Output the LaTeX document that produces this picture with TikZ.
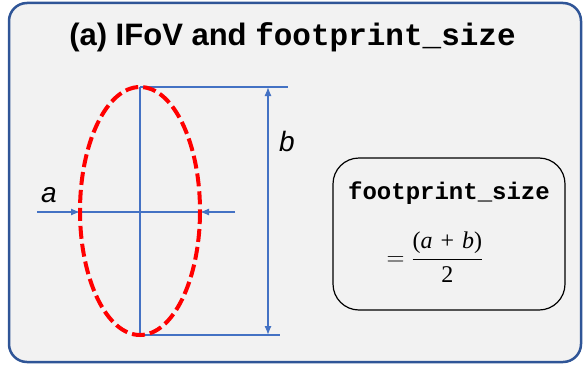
\documentclass[tikz,border=0pt]{standalone}
\usepackage{fontspec}
\setmainfont{Liberation Sans}
\setmonofont{Liberation Mono}
\newfontfamily\mathserif{Liberation Serif}
\usetikzlibrary{arrows.meta}
\definecolor{frameblue}{HTML}{2F5597}
\definecolor{lineblue}{HTML}{4472C4}
\definecolor{bggray}{HTML}{F2F2F2}
\tikzset{
  dimline/.style={draw=lineblue, line width=1.3pt},
  tip/.tip={Latex[length=9pt,width=7pt]},
  dimarrow/.style={dimline, -tip},
  lbl/.style={font=\fontsize{28}{30}\selectfont\itshape, inner sep=0pt},
}
\begin{document}
\begin{tikzpicture}[x=1pt,y=-1pt]
\useasboundingbox (0,0) rectangle (585,369);
% outer frame
\draw[frameblue, line width=2.5pt, fill=bggray, rounded corners=18pt] (9,3) rectangle (581,362);
% title
\node (title) at (292.5,37) {\fontsize{31}{33}\selectfont\bfseries (a) IFoV and \texttt{\bfseries footprint\_size}};
% guide coordinates
\coordinate (top) at (140,87);
\coordinate (bot) at (140,335);
\coordinate (L) at (80,212);
\coordinate (R) at (200,212);
\coordinate (topR) at (288,87);
\coordinate (botR) at (280,335);
\coordinate (bT) at (268,87);
\coordinate (bB) at (268,335);
\coordinate (aL) at (37,212);
\coordinate (aR) at (235,212);
% axes
\draw[dimline] (top) -- (bot);
\draw[dimline] (L) -- (R);
\draw[dimline] (top) -- (topR);
\draw[dimline] (bot) -- (botR);
\draw[dimarrow] (aL) -- (L);
\draw[dimarrow] (aR) -- (R);
\draw[dimline, tip-tip] (bT) -- (bB);
% ellipse
\draw[red, line width=4pt, dash pattern=on 13pt off 5pt] (140,211) ellipse [x radius=60, y radius=124];
% labels
\node[lbl] (la) at (49,195) {a};
\node[lbl] (lb) at (287,141) {b};
% formula box
\draw[black, line width=1.2pt, rounded corners=26pt] (333,158) rectangle (565,310);
\node (fs) at (449,193) {\fontsize{24}{26}\selectfont\ttfamily\bfseries footprint\_size};
\node (eq) at (435,257) {\fontsize{24}{26}\selectfont $\displaystyle=\frac{\hbox{\mathserif(\textit{a}\,\,+\,\,\textit{b})}}{\hbox{\mathserif 2}}$};
\end{tikzpicture}
\end{document}
